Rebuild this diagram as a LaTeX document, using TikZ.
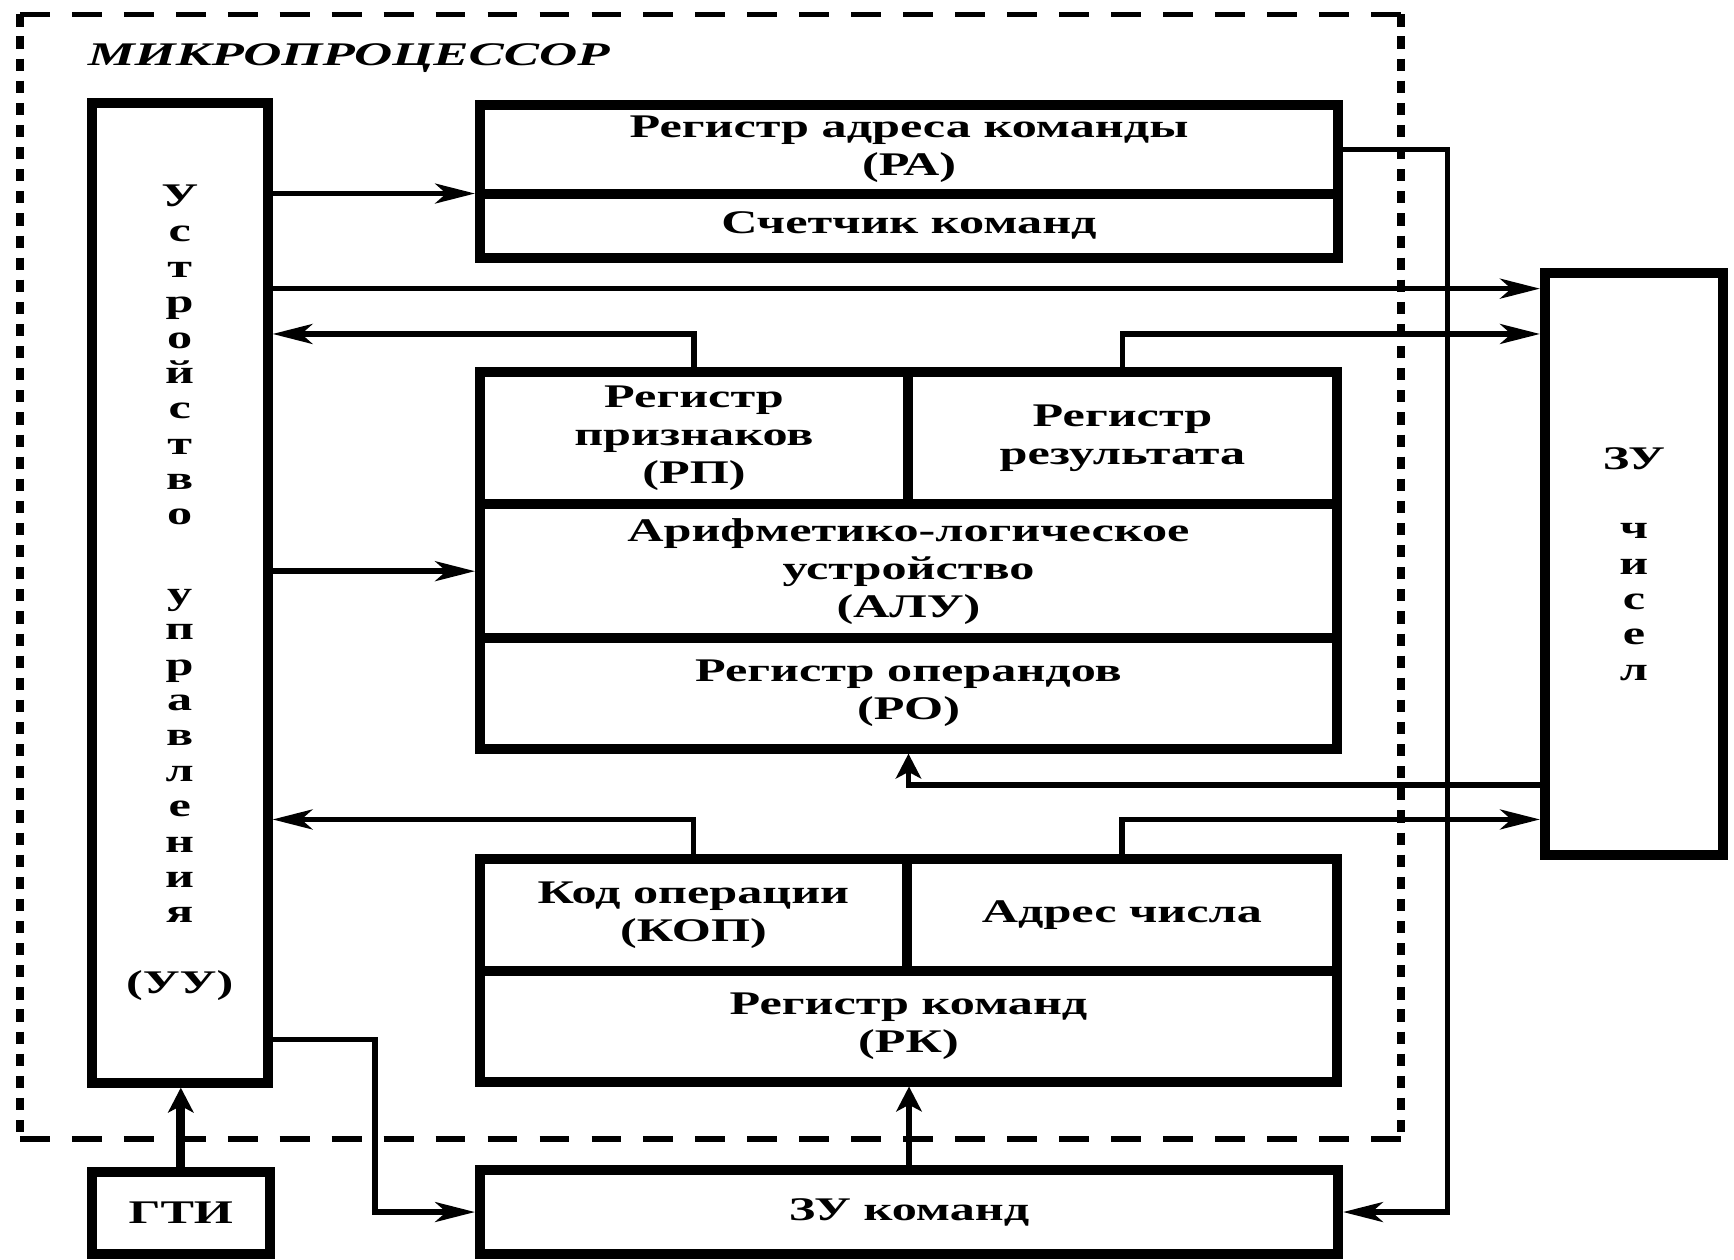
\documentclass[tikz,border=0pt]{standalone}
\usepackage{fontspec}
\setmainfont{Liberation Serif}[FakeStretch=1.52]
\newfontfamily\ttlfont{Liberation Serif}[FakeStretch=1.6]
\usetikzlibrary{arrows.meta}
\newcommand\cellfont{\fontsize{17}{19.5}\selectfont\bfseries}
\newcommand\colfont{\fontsize{17}{18.2}\selectfont\bfseries}
\newcommand\cellbox[6]{\node[box, minimum width={(#4-#2)*0.02cm}, minimum height={(#5-#3)*0.02cm}] (#1) at ({(#2+#4)/2},{(#3+#5)/2}) {#6};}
\begin{document}
\begin{tikzpicture}[x=0.02cm,y=-0.02cm,
  box/.style={draw, line width=0.18cm, outer sep=0pt, inner sep=0pt, align=center, font=\cellfont},
  conn/.style={line width=0.1cm, shorten >=0.09cm},
  harr/.style={conn, -{Stealth[length=0.72cm,width=0.36cm,inset=0.2cm]}},
  varr/.style={conn, -{Stealth[length=0.45cm,width=0.46cm,inset=0.12cm]}},
  hframe/.style={line width=0.1cm, dash pattern=on 0.54cm off 0.4cm},
  vframe/.style={line width=0.14cm, dash pattern=on 0.22cm off 0.18cm}]
\useasboundingbox[fill=white] (0,0) rectangle (1568,1139);

% dashed frame of the microprocessor
\draw[hframe] (18,13) -- (1267,13);
\draw[hframe] (18,1030) -- (1267,1030);
\draw[vframe] (18,13) -- (18,1030);
\draw[vframe] (1267,13) -- (1267,1030);
\node[font={\ttlfont\fontsize{17}{20}\selectfont\bfseries\itshape}, anchor=base west, inner sep=0pt] (title) at (79,59) {МИКРОПРОЦЕССОР};

% boxes
\node[box, font=\colfont, minimum width={(242-83)*0.02cm}, minimum height={(979-93)*0.02cm}] (uu) at ({(83+242)/2},{(93+979)/2})
  {У\\с\\т\\р\\о\\й\\с\\т\\в\\о\\[22.8pt]у\\п\\р\\а\\в\\л\\е\\н\\и\\я\\[18.2pt](УУ)};
\node[box, font=\colfont, minimum width={(1558-1397)*0.02cm}, minimum height={(773-247)*0.02cm}] (zuc) at ({(1397+1558)/2},{(247+773)/2})
  {ЗУ\\[17.6pt]ч\\и\\с\\е\\л};

\cellbox{ra}{434}{95}{1210}{175}{Регистр адреса команды\\(РА)}
\cellbox{sk}{434}{175}{1210}{233}{Счетчик команд}
\cellbox{rp}{434}{336}{821}{456}{Регистр\\признаков\\(РП)}
\cellbox{rr}{821}{336}{1209}{456}{Регистр\\результата}
\cellbox{alu}{434}{456}{1209}{577}{Арифметико-логическое\\устройство\\(АЛУ)}
\cellbox{ro}{434}{577}{1209}{677}{Регистр операндов\\(РО)}
\cellbox{kop}{434}{777}{820}{878}{Код операции\\(КОП)}
\cellbox{adr}{820}{777}{1209}{878}{Адрес числа}
\cellbox{rk}{434}{878}{1209}{978}{Регистр команд\\(РК)}
\cellbox{zuk}{434}{1058}{1210}{1134}{ЗУ команд}
\cellbox{gti}{83}{1060}{244}{1134}{ГТИ}

% bus levels
\coordinate (y261) at (0,261);
\coordinate (y302) at (0,302);
\coordinate (y710) at (0,710);
\coordinate (y741) at (0,741);
\coordinate (y940) at (0,940);
\coordinate (xr) at (1309,0);
\coordinate (xl) at (339,0);

% connectors
\draw[harr] (uu.east |- ra.south) -- (ra.south west);
\draw[harr] (uu.east |- y261) -- (zuc.west |- y261);
\draw[harr] (rp.north) |- (uu.east |- y302);
\draw[harr] (rr.north) |- (zuc.west |- y302);
\draw[harr] (uu.east |- alu.west) -- (alu.west);
\draw[varr] (zuc.west |- y710) -| (ro.south);
\draw[harr] (kop.north) |- (uu.east |- y741);
\draw[harr] (adr.north) |- (zuc.west |- y741);
\draw[harr] (ra.east) -| (xr |- zuk.east) -- (zuk.east);
\draw[harr] (uu.east |- y940) -| (xl |- zuk.west) -- (zuk.west);
\draw[varr, line width=0.16cm] (gti.north) -- (gti.north |- uu.south);
\draw[varr] (zuk.north) -- (zuk.north |- rk.south);
\end{tikzpicture}
\end{document}
